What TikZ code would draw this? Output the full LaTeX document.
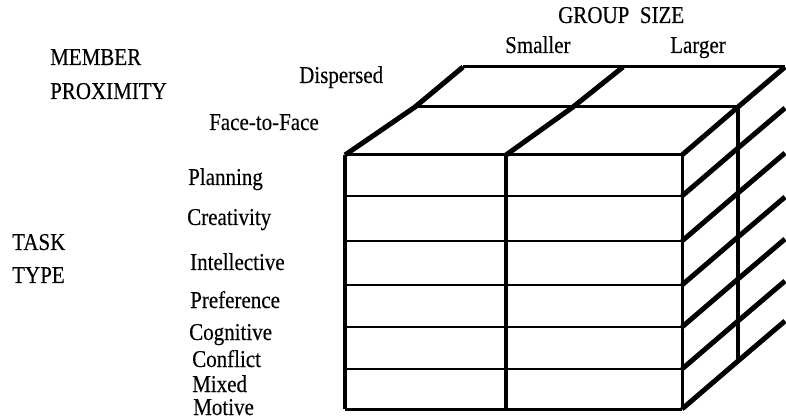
\documentclass[tikz,border=0pt]{standalone}
\usepackage{fontspec}
\setmainfont[FakeBold=0.3]{Liberation Serif}
\usetikzlibrary{positioning}

\begin{document}
\begin{tikzpicture}[x=1pt,y=-1pt,font=\fontsize{21}{25}\selectfont]
\tikzstyle{lbl}=[anchor=base west,inner sep=0pt]
\tikzstyle{deep}=[line width=5pt]
\tikzstyle{rim}=[line width=3pt]
\tikzstyle{rowline}=[line width=2.5pt]
\tikzstyle{post}=[line width=4pt]
\newcommand{\tall}[1]{\scalebox{1}[1.15]{#1}}

\useasboundingbox (0,0) rectangle (786,419);
\clip (0,0) rectangle (786,419);

% axis titles
\node[lbl] (member) at (50,65) {\tall{MEMBER}};
\node[lbl] (proximity) at (50,99) {\tall{PROXIMITY}};
\node[lbl] (task) at (12,250) {\tall{TASK}};
\node[lbl] (type) at (12,283) {\tall{TYPE}};
\node[lbl] (groupsize) at (558,23) {\tall{GROUP\ \ SIZE}};

% levels
\node[lbl] (smaller) at (505,53) {\tall{Smaller}};
\node[lbl] (larger) at (670,53) {\tall{Larger}};
\node[lbl] (dispersed) at (299,83) {\tall{Dispersed}};
\node[lbl] (facetoface) at (209,130) {\tall{Face-to-Face}};
\foreach \nm/\x/\y/\txt in {planning/188/185/Planning, creativity/187/225/Creativity,
    intellective/190/270/Intellective, preference/190/308/Preference,
    cognitive/189/340/Cognitive, conflict/192/367/Conflict,
    mixed/192/392/Mixed, motive/193/415/Motive}
  \node[lbl] (\nm) at (\x,\y) {\tall{\txt}};

% top face
\draw[rim] (345,155) -- (682,155);
\draw[rim] (415,107) -- (738,107);
\draw[rim] (463,67) -- (785,67);
\draw[deep] (345,155) -- (415,107) -- (463,67);
\draw[deep] (506,155) -- (573,107) -- (623,67);
\draw[deep] (682,155) -- (738,107) -- (785,67);

% front face
\foreach \y in {196,241,285,327,369}
  \draw[rowline] (345,\y) -- (682,\y);
\draw[rim] (345,409) -- (682,409);
\draw[post] (345,155) -- (345,409);
\draw[post] (506,155) -- (506,409);
\draw[rim] (682,155) -- (682,409);

% right face
\foreach \y in {196,241,285,327,369,409}
  \draw[deep] (682,\y) -- ++(56,-48) -- ++(47,-40);
\draw[post] (738,107) -- (738,361);
\end{tikzpicture}
\end{document}
